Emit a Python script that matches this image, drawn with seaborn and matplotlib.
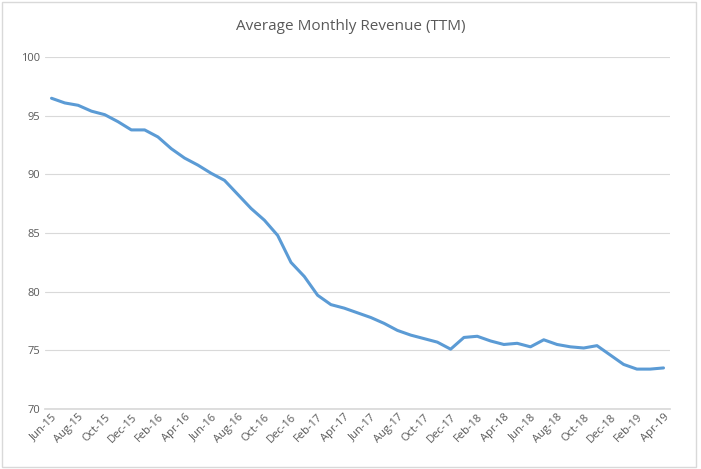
import matplotlib
matplotlib.use("Agg")
import matplotlib.pyplot as plt
import seaborn as sns
import pandas as pd

months = pd.date_range("2015-06-01", "2019-04-01", freq="MS").strftime("%b-%y").tolist()
revenue = [96.5, 96.1, 95.9, 95.4, 95.1, 94.5, 93.8, 93.8, 93.2, 92.2, 91.4, 90.8,
           90.1, 89.5, 88.3, 87.1, 86.1, 84.8, 82.5, 81.3, 79.7, 78.9, 78.6, 78.2,
           77.8, 77.3, 76.7, 76.3, 76.0, 75.7, 75.1, 76.1, 76.2, 75.8, 75.5, 75.6,
           75.3, 75.9, 75.5, 75.3, 75.2, 75.4, 74.6, 73.8, 73.4, 73.4, 73.5]
df = pd.DataFrame({"idx": range(len(months)), "rev": revenue})

sns.set_theme(style="white")
plt.rcParams['font.family'] = ['Open Sans', 'DejaVu Sans']
fig = plt.figure(figsize=(7.01, 4.69), dpi=100)
ax = fig.add_axes([0.064, 0.128, 0.892, 0.75])
sns.lineplot(data=df, x="idx", y="rev", ax=ax, color="#5b9bd5", linewidth=2.2)
ax.set_ylim(70, 100)
ax.set_yticks(range(70, 101, 5))
ax.set_xlim(-0.5, len(months) - 0.5)
ax.set_xticks(range(0, len(months), 2))
ax.set_xticklabels(months[::2], rotation=45, ha="right", rotation_mode="anchor", fontsize=8, color="#595959")
ax.tick_params(axis="y", labelsize=8, labelcolor="#595959", length=0)
ax.tick_params(axis="x", length=0, pad=2)
ax.grid(axis="y", color="#d9d9d9", linewidth=0.8)
for s in ["top", "right", "left"]:
    ax.spines[s].set_visible(False)
ax.spines["bottom"].set_color("#d9d9d9")
ax.set_xlabel("")
ax.set_ylabel("")
fig.text(0.5, 0.935, "Average Monthly Revenue (TTM)", ha="center", fontsize=11, color="#595959")
fig.patches.append(plt.Rectangle((0.003, 0.005), 0.99, 0.99, transform=fig.transFigure,
                                 fill=False, edgecolor="#d9d9d9", linewidth=1))
fig.savefig("out.png", dpi=100)
